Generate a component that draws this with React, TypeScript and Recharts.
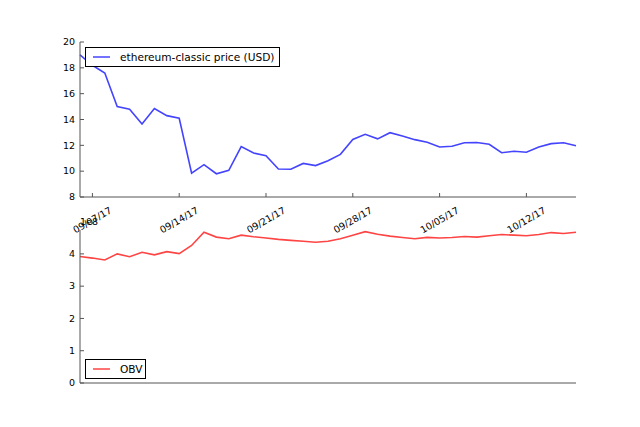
import { LineChart, Line, XAxis, YAxis, Legend } from "recharts";

const dates = [
  "09/06/17", "09/07/17", "09/08/17", "09/09/17", "09/10/17", "09/11/17", "09/12/17",
  "09/13/17", "09/14/17", "09/15/17", "09/16/17", "09/17/17", "09/18/17", "09/19/17",
  "09/20/17", "09/21/17", "09/22/17", "09/23/17", "09/24/17", "09/25/17", "09/26/17",
  "09/27/17", "09/28/17", "09/29/17", "09/30/17", "10/01/17", "10/02/17", "10/03/17",
  "10/04/17", "10/05/17", "10/06/17", "10/07/17", "10/08/17", "10/09/17", "10/10/17",
  "10/11/17", "10/12/17", "10/13/17", "10/14/17", "10/15/17", "10/16/17",
];

const price = [
  19.0, 18.2, 17.6, 15.0, 14.8, 13.65, 14.85, 14.3, 14.1, 9.85, 10.5, 9.8, 10.07, 11.9,
  11.4, 11.2, 10.17, 10.15, 10.6, 10.43, 10.8, 11.3, 12.45, 12.85, 12.5, 12.98, 12.72,
  12.44, 12.24, 11.87, 11.93, 12.2, 12.22, 12.08, 11.43, 11.54, 11.46, 11.87, 12.13, 12.2,
  11.97,
];

const obv = [
  3.92e8, 3.87e8, 3.81e8, 4.0e8, 3.91e8, 4.05e8, 3.97e8, 4.07e8, 4.01e8, 4.26e8, 4.67e8,
  4.52e8, 4.47e8, 4.58e8, 4.53e8, 4.49e8, 4.45e8, 4.42e8, 4.39e8, 4.36e8, 4.39e8, 4.47e8,
  4.58e8, 4.69e8, 4.61e8, 4.55e8, 4.51e8, 4.47e8, 4.51e8, 4.49e8, 4.51e8, 4.54e8, 4.52e8,
  4.56e8, 4.6e8, 4.58e8, 4.56e8, 4.6e8, 4.66e8, 4.63e8, 4.67e8,
];

const dateTicks = [1, 8, 15, 22, 29, 36];
const priceTicks = [8, 10, 12, 14, 16, 18, 20];
const obvTicks = [0, 1e8, 2e8, 3e8, 4e8];

const data = dates.map((d, i) => ({ i, date: d, price: price[i], obv: obv[i] }));

const FONT = "'DejaVu Sans', sans-serif";
const SPINE = "#555";

const YTick = (props: any) => {
  const { x, y, payload, fmt } = props;
  return (
    <g>
      <line x1={x + 4} y1={y} x2={x + 8} y2={y} stroke={SPINE} />
      <text x={x - 1} y={y} dy="0.35em" textAnchor="end" fontSize={9.5} fontFamily={FONT} fill="#000">
        {fmt ? fmt(payload.value) : payload.value}
      </text>
    </g>
  );
};

const XTick = (props: any) => {
  const { x, y, payload } = props;
  return (
    <g>
      <line x1={x} y1={y} x2={x} y2={y - 4} stroke={SPINE} />
      <text
        x={x}
        y={y + 23}
        dy="0.35em"
        textAnchor="middle"
        fontSize={9.5}
        fontFamily={FONT}
        fill="#000"
        transform={`rotate(-30, ${x}, ${y + 23})`}
      >
        {dates[payload.value]}
      </text>
    </g>
  );
};

const LegendBox = ({ color, label, width }: { color: string; label: string; width: number }) => (
  <div
    style={{
      width,
      height: 18,
      border: "1px solid #000",
      background: "#fff",
      display: "flex",
      alignItems: "center",
      fontFamily: FONT,
      fontSize: 10.6,
      color: "#000",
      boxSizing: "content-box",
    }}
  >
    <svg width={34} height={18}>
      <line x1={7} y1={9} x2={24} y2={9} stroke={color} strokeWidth={1.5} />
    </svg>
    <span>{label}</span>
  </div>
);

export default function App() {
  return (
    <div style={{ position: "absolute", left: 0, top: 0, width: 640, height: 427, background: "#fff" }}>
      <div style={{ position: "absolute", left: 0, top: 0 }}>
        <LineChart width={640} height={427} data={data} margin={{ top: 42, right: 64, left: 50, bottom: 200 }}>
          <XAxis
            dataKey="i"
            type="number"
            domain={[0, 40]}
            ticks={dateTicks}
            height={30}
            tickSize={0}
            tickMargin={0}
            tickLine={false}
            stroke={SPINE}
            tick={<XTick />}
          />
          <YAxis
            type="number"
            domain={[8, 20]}
            ticks={priceTicks}
            width={30}
            tickSize={0}
            tickMargin={4}
            tickLine={false}
            stroke={SPINE}
            tick={<YTick />}
          />
          <Legend
            layout="horizontal"
            verticalAlign="middle"
            align="center"
            wrapperStyle={{ position: "absolute", left: 85, top: 47, width: "auto" }}
            content={() => <LegendBox color="#4444ff" label="ethereum-classic price (USD)" width={193} />}
          />
          <Line
            type="linear"
            dataKey="price"
            name="ethereum-classic price (USD)"
            stroke="#4444ff"
            strokeWidth={1.6}
            dot={false}
            isAnimationActive={false}
          />
        </LineChart>
      </div>
      <div style={{ position: "absolute", left: 0, top: 0 }}>
        <LineChart width={640} height={427} data={data} margin={{ top: 230, right: 64, left: 50, bottom: 34 }}>
          <XAxis
            dataKey="i"
            type="number"
            domain={[0, 40]}
            ticks={dateTicks}
            height={10}
            tick={false}
            tickLine={false}
            stroke={SPINE}
          />
          <YAxis
            type="number"
            domain={[0, 4.74e8]}
            ticks={obvTicks}
            width={30}
            tickSize={0}
            tickMargin={4}
            tickLine={false}
            stroke={SPINE}
            tick={<YTick fmt={(v: number) => String(Math.round(v / 1e8))} />}
          />
          <Legend
            layout="horizontal"
            verticalAlign="middle"
            align="center"
            wrapperStyle={{ position: "absolute", left: 85, top: 359, width: "auto" }}
            content={() => <LegendBox color="#ff4444" label="OBV" width={59} />}
          />
          <Line
            type="linear"
            dataKey="obv"
            name="OBV"
            stroke="#ff4444"
            strokeWidth={1.6}
            dot={false}
            isAnimationActive={false}
          />
        </LineChart>
      </div>
      <div
        style={{
          position: "absolute",
          left: 80,
          top: 217,
          fontFamily: FONT,
          fontSize: 9.5,
          color: "#000",
          lineHeight: "10px",
        }}
      >
        1e8
      </div>
    </div>
  );
}
